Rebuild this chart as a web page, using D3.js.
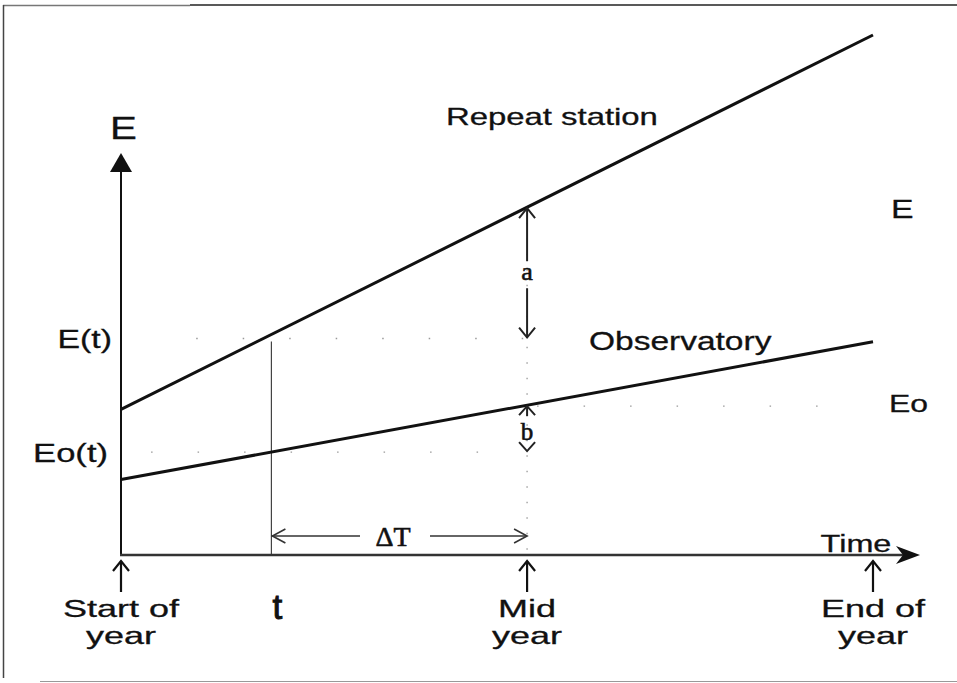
<!DOCTYPE html>
<meta charset="utf-8">
<style>
body { margin: 0; background: #fff; }
text { font-family: "Liberation Sans", Arial, sans-serif; fill: #111; stroke: #111; stroke-width: 0.3px; }
.serif { font-family: "Liberation Serif", "Times New Roman", serif; stroke-width: 0.6px; }
</style>
<svg width="957" height="683"></svg>
<script src="https://d3js.org/d3.v7.min.js"></script>
<script>

// time positions (0 = start of year, 100 = end of year; diagram is not to scale)
var timeKeys = ["Start of year", "t", "Mid year", "End of year"];
var timeVals = [0, 20, 54, 100];

// E values at start and end of the year
var repeatStation = [28, 100];
var observatory = [14.5, 41];

var svg = d3.select("svg");

var x = d3.scaleLinear().domain([0, 100]).range([121, 873]);
var y = d3.scaleLinear().domain([0, 100]).range([555, 35]);

function valAt(series, t) {
  return series[0] + (series[1] - series[0]) * t / 100;
}

var tT = timeVals[1], tMid = timeVals[2];
var Et = valAt(repeatStation, tT), Eot = valAt(observatory, tT);
var Emid = valAt(repeatStation, tMid), Eomid = valAt(observatory, tMid);

// frame
svg.append("line").attr("x1", 3).attr("y1", 5.5).attr("x2", 190).attr("y2", 5.5)
    .attr("stroke", "#777").attr("stroke-width", 1.5);
svg.append("line").attr("x1", 190).attr("y1", 5).attr("x2", 957).attr("y2", 5)
    .attr("stroke", "#222").attr("stroke-width", 1.5);
svg.append("line").attr("x1", 3.5).attr("y1", 5).attr("x2", 3.5).attr("y2", 678)
    .attr("stroke", "#444").attr("stroke-width", 1.5);
svg.append("line").attr("x1", 40).attr("y1", 681.5).attr("x2", 957).attr("y2", 681.5)
    .attr("stroke", "#999").attr("stroke-width", 1.2);

// dotted guide lines (sparse)
var dots = svg.append("g").attr("stroke", "#999").attr("stroke-width", 1.3)
    .attr("stroke-dasharray", "1.5,45").attr("fill", "none");
dots.append("line").attr("x1", x(10)).attr("x2", x(tMid)).attr("y1", y(Et) + 4).attr("y2", y(Et) + 4);
dots.append("line").attr("x1", x(4)).attr("x2", x(tMid) - 25).attr("y1", y(Eot)).attr("y2", y(Eot));
dots.append("line").attr("x1", x(tMid) + 10).attr("x2", x(97)).attr("y1", y(Eomid) + 1).attr("y2", y(Eomid) + 1);
dots.append("line").attr("x1", x(tMid)).attr("x2", x(tMid)).attr("y1", y(Emid)).attr("y2", y(0))
    .attr("stroke-dasharray", "1.5,14");

// vertical at t
svg.append("line").attr("x1", x(tT)).attr("x2", x(tT)).attr("y1", y(Et) + 7).attr("y2", y(0))
    .attr("stroke", "#444").attr("stroke-width", 1.2);

// data lines
var line = d3.line().x(function(d) { return x(d[0]); }).y(function(d) { return y(d[1]); });
[repeatStation, observatory].forEach(function(s) {
  svg.append("path")
      .attr("d", line([[timeVals[0], s[0]], [timeVals[3], s[1]]]))
      .attr("fill", "none").attr("stroke", "#111").attr("stroke-width", 3);
});

// axes
svg.append("line").attr("x1", x(0)).attr("x2", x(0)).attr("y1", y(0)).attr("y2", 168)
    .attr("stroke", "#111").attr("stroke-width", 2);
svg.append("path").attr("d", "M" + x(0) + ",153 L" + (x(0) - 11) + ",172 L" + (x(0) + 11) + ",172 Z")
    .attr("fill", "#111");
svg.append("line").attr("x1", x(0) - 1).attr("x2", 905).attr("y1", y(0)).attr("y2", y(0))
    .attr("stroke", "#333").attr("stroke-width", 2.4);
svg.append("path")
    .attr("d", "M920," + y(0) + " L896," + (y(0) - 9) + " L903," + y(0) + " L896," + (y(0) + 9) + " Z")
    .attr("fill", "#111");

// open V arrowhead helper
function vHead(g, tx, ty, dir, w, h) {
  var p;
  if (dir === "up") p = [[tx - w, ty + h], [tx, ty], [tx + w, ty + h]];
  if (dir === "down") p = [[tx - w, ty - h], [tx, ty], [tx + w, ty - h]];
  if (dir === "left") p = [[tx + h, ty - w], [tx, ty], [tx + h, ty + w]];
  if (dir === "right") p = [[tx - h, ty - w], [tx, ty], [tx - h, ty + w]];
  g.append("path").attr("d", d3.line()(p)).attr("fill", "none");
}

// arrow a
var ga = svg.append("g").attr("stroke", "#222").attr("stroke-width", 2);
var ya0 = y(Emid) + 1, ya1 = y(Et) + 3;
ga.append("line").attr("x1", x(tMid)).attr("x2", x(tMid)).attr("y1", ya0).attr("y2", ya0 + 53);
ga.append("line").attr("x1", x(tMid)).attr("x2", x(tMid)).attr("y1", ya0 + 80).attr("y2", ya1);
vHead(ga, x(tMid), ya0, "up", 8, 10);
vHead(ga, x(tMid), ya1, "down", 8, 10);
svg.append("text").attr("class", "serif").attr("x", x(tMid)).attr("y", ya0 + 72)
    .attr("text-anchor", "middle").attr("font-size", 26).text("a");

// arrow b
var gb = svg.append("g").attr("stroke", "#222").attr("stroke-width", 2);
var yb0 = y(Eomid) + 1, yb1 = y(Eot) - 1;
gb.append("line").attr("x1", x(tMid)).attr("x2", x(tMid)).attr("y1", yb0).attr("y2", yb0 + 10);
vHead(gb, x(tMid), yb0, "up", 8, 9);
vHead(gb, x(tMid), yb1, "down", 8, 9);
svg.append("text").attr("class", "serif").attr("x", x(tMid)).attr("y", yb0 + 34)
    .attr("text-anchor", "middle").attr("font-size", 25).text("b");

// delta T arrow
var gd = svg.append("g").attr("stroke", "#333").attr("stroke-width", 1.6);
var yd = 536;
gd.append("line").attr("x1", x(tT)).attr("x2", 360).attr("y1", yd).attr("y2", yd);
gd.append("line").attr("x1", 430).attr("x2", x(tMid)).attr("y1", yd).attr("y2", yd);
vHead(gd, x(tT) + 1, yd, "left", 7, 13);
vHead(gd, x(tMid), yd, "right", 7, 13);
svg.append("text").attr("class", "serif").attr("x", 393).attr("y", 546)
    .attr("text-anchor", "middle").attr("font-size", 28).text("\u0394T");

// up arrows under the time axis
var gu = svg.append("g").attr("stroke", "#111").attr("stroke-width", 2.2);
[timeVals[0], timeVals[2], timeVals[3]].forEach(function(v) {
  gu.append("line").attr("x1", x(v)).attr("x2", x(v)).attr("y1", 561).attr("y2", 592);
  vHead(gu, x(v), 561, "up", 8, 10);
});

// stretched sans labels
function label(txt, lx, ly, size, sx, anchor) {
  svg.append("text")
      .attr("transform", "translate(" + lx + "," + ly + ") scale(" + sx + ",1)")
      .attr("text-anchor", anchor || "start")
      .attr("font-size", size)
      .text(txt);
}

label("E", 110, 139, 31, 1.3);
label("Repeat station", 446, 125, 24, 1.37);
label("E", 891, 218, 26, 1.3);
label("E(t)", 112, y(Et) + 13, 26, 1.3, "end");
label("Observatory", 589, 350, 25, 1.34);
label("Eo", 889, 412, 24, 1.33);
label("Eo(t)", 108, y(Eot) + 10, 26, 1.33, "end");
label("Time", 856, 552, 24, 1.35, "middle");

var bottom = [["Start of", "year"], null, ["Mid", "year"], ["End of", "year"]];
bottom.forEach(function(lines, i) {
  if (!lines) return;
  label(lines[0], x(timeVals[i]), 617, 24, 1.5, "middle");
  label(lines[1], x(timeVals[i]), 644, 24, 1.5, "middle");
});
svg.append("text").attr("x", x(tT) + 6).attr("y", 619).attr("text-anchor", "middle")
    .attr("font-size", 35).style("stroke-width", "1px").text("t");

</script>
